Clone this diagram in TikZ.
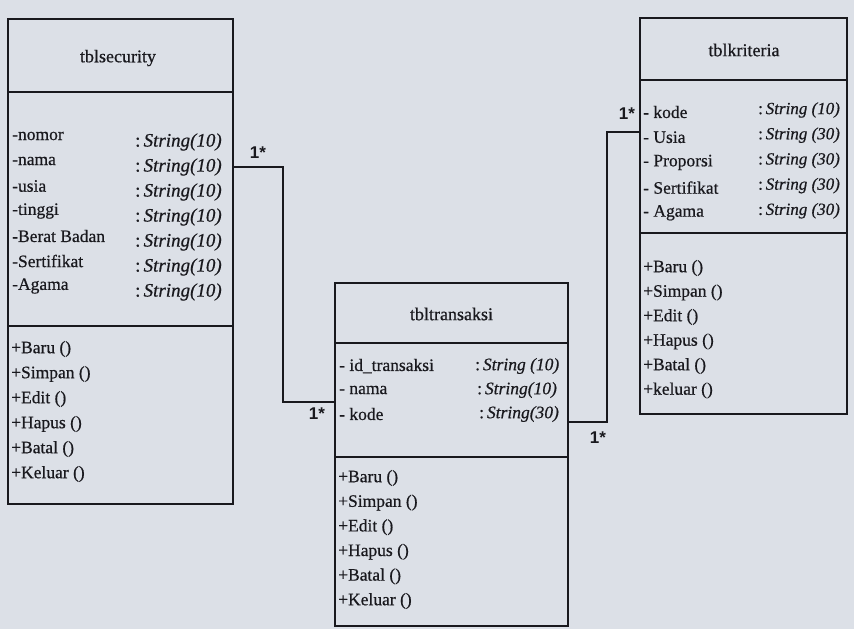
\documentclass[tikz,border=0pt]{standalone}
\usepackage{fontspec}
\setmainfont{Liberation Serif}[FakeBold=0.6]
\newfontfamily\lblfont{Liberation Sans}
\definecolor{paper}{RGB}{220,224,231}
\definecolor{ink}{RGB}{25,25,30}
\begin{document}
\begin{tikzpicture}[x=1pt,y=-1pt,
  cls/.style={draw=ink, line width=1.4pt, rectangle, inner sep=0pt, outer sep=0pt, anchor=north west},
  divl/.style={draw=ink, line width=1.4pt},
  conn/.style={draw=ink, line width=1.4pt},
  ttl/.style={inner sep=0pt, font=\fontsize{18}{20}\selectfont, text=ink},
  att/.style={anchor=west, inner sep=0pt, font=\fontsize{17.5}{20}\selectfont, text=ink},
  smallatt/.style={anchor=west, inner sep=0pt, font=\fontsize{17}{20}\selectfont, text=ink},
  bigatt/.style={anchor=west, inner sep=0pt, font=\fontsize{19}{22}\selectfont, text=ink},
  mult/.style={inner sep=0pt, font=\lblfont\bfseries\fontsize{17}{19}\selectfont, text=ink}]
\fill[paper] (0,0) rectangle (854,629);
\useasboundingbox (0,0) rectangle (854,629);

% ---------- tblsecurity ----------
\node[cls, minimum width=225pt, minimum height=485pt] (sec) at (8,19) {};
\draw[divl] (8,92) -- (233,92);
\draw[divl] (8,326) -- (233,326);
\node[ttl] (secT) at (118,58) {tblsecurity};
\foreach \n/\t [count=\i from 0] in {nomor/, nama/, usia/, tinggi/, Berat Badan/, Sertifikat/, Agama/}{
  \node[att] (secA\i) at (12,{136+25*\i}) {-\n};
  \node[bigatt] (secY\i) at (135,{142+25*\i}) {:\,\textit{String(10)}};
}
\foreach \m [count=\i from 0] in {Baru, Simpan, Edit, Hapus, Batal, Keluar}{
  \node[att] (secM\i) at (11,{349+25*\i}) {+\m\ ()};
}

% ---------- tbltransaksi ----------
\node[cls, minimum width=233pt, minimum height=343pt] (tra) at (335,283) {};
\draw[divl] (335,343) -- (568,343);
\draw[divl] (335,457) -- (568,457);
\node[ttl] (traT) at (451.5,314) {tbltransaksi};
\node[att] (traA0) at (339,366) {- id\_transaksi};
\node[att] (traA1) at (339,390) {- nama};
\node[att] (traA2) at (339,414) {- kode};
\node[att] (traY0) at (475,366) {:\,\textit{String (10)}};
\node[att] (traY1) at (477,390) {:\,\textit{String(10)}};
\node[att] (traY2) at (479,414) {:\,\textit{String(30)}};
\foreach \m [count=\i from 0] in {Baru, Simpan, Edit, Hapus, Batal, Keluar}{
  \node[att] (traM\i) at (338,{478+24.6*\i}) {+\m\ ()};
}

% ---------- tblkriteria ----------
\node[cls, minimum width=207pt, minimum height=396pt] (kri) at (640,18) {};
\draw[divl] (640,80) -- (847,80);
\draw[divl] (640,233) -- (847,233);
\node[ttl] (kriT) at (744,50) {tblkriteria};
\foreach \n/\t [count=\i from 0] in {kode/10, Usia/30, Proporsi/30, Sertifikat/30, Agama/30}{
  \node[att] (kriA\i) at (643,{112+25.2*\i}) {- \n};
  \node[smallatt] (kriY\i) at (758,{110+25.2*\i}) {:\,\textit{String (\t)}};
}
\foreach \m [count=\i from 0] in {Baru, Simpan, Edit, Hapus, Batal, keluar}{
  \node[att] (kriM\i) at (643,{268+24.5*\i}) {+\m\ ()};
}

% ---------- connectors ----------
\coordinate (c1a) at (sec.east |- secY1.west);
\coordinate (c1b) at (335,402);
\draw[conn] (c1a) -- ++(50,0) |- (c1b);
\coordinate (c2a) at (568,422);
\coordinate (c2b) at (640,132);
\draw[conn] (c2a) -- (607,422) |- (c2b);

\node[mult] (m1) at (258,153) {1*};
\node[mult] (m2) at (317,414) {1*};
\node[mult] (m3) at (598,438) {1*};
\node[mult] (m4) at (627,114) {1*};
\end{tikzpicture}
\end{document}
